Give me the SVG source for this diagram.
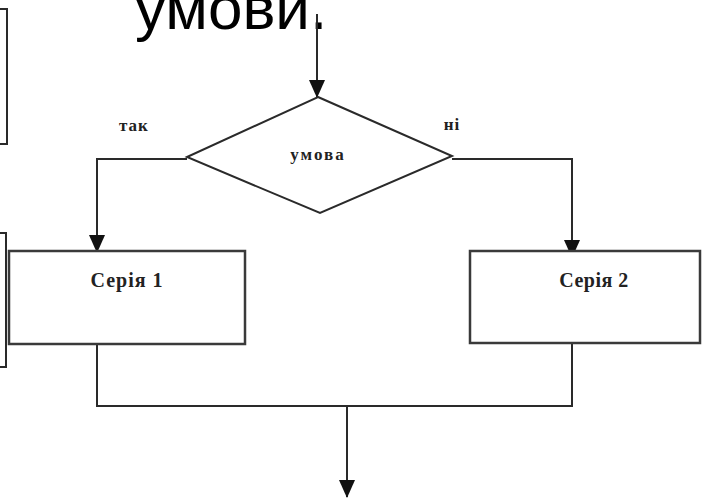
<svg xmlns="http://www.w3.org/2000/svg" width="702" height="498" viewBox="0 0 702 498">
<style>
.ln{fill:none;stroke:#2a2a2a;stroke-width:2}
.box{fill:#fff;stroke:#3a3a3a;stroke-width:2.5}
.lbl{font-family:"Liberation Serif","DejaVu Serif",serif;font-weight:bold;fill:#222;text-anchor:middle}
.ttl{font-family:"Liberation Sans",Arial,sans-serif;fill:#000}
</style>
<defs>
<marker id="ah" markerWidth="16" markerHeight="18" refX="8" refY="17" orient="0" markerUnits="userSpaceOnUse">
<path d="M0,0 L16,0 L8,18 Z" fill="#111"/>
</marker>
</defs>
<rect width="702" height="498" fill="#fff"/>
<g id="side">
<path class="ln" d="M-2,9 H7 V144 H-2" stroke="#222"/>
<path class="ln" d="M-2,233 H6 V367 H-2" stroke="#222"/>
</g>
<text class="ttl" x="135" y="29" font-size="62">умови.</text>
<g id="connectors">
<line class="ln" x1="317" y1="14" x2="317" y2="97" marker-end="url(#ah)"/>
<polyline class="ln" points="187,159 97,159 97,252" marker-end="url(#ah)"/>
<polyline class="ln" points="452,159 572,159 572,257" marker-end="url(#ah)"/>
<polyline class="ln" points="97,344 97,406 572,406 572,344"/>
<line class="ln" x1="347" y1="406" x2="347" y2="497" marker-end="url(#ah)"/>
</g>
<g id="decision">
<polygon points="318,97 452,156 320,213 187,157" fill="#fff" stroke="#2a2a2a" stroke-width="2"/>
<text class="lbl" x="318" y="160" font-size="17" letter-spacing="2">умова</text>
</g>
<text class="lbl" x="134" y="131" font-size="17" letter-spacing="1">так</text>
<text class="lbl" x="452" y="130" font-size="17" letter-spacing="1">ні</text>
<g id="series1">
<rect class="box" x="9" y="251" width="236" height="93"/>
<text class="lbl" x="127" y="287" font-size="20" letter-spacing="1">Серія 1</text>
</g>
<g id="series2">
<rect class="box" x="470" y="251" width="230" height="92"/>
<text class="lbl" x="594" y="287" font-size="20" letter-spacing="0.5">Серія 2</text>
</g>
</svg>
